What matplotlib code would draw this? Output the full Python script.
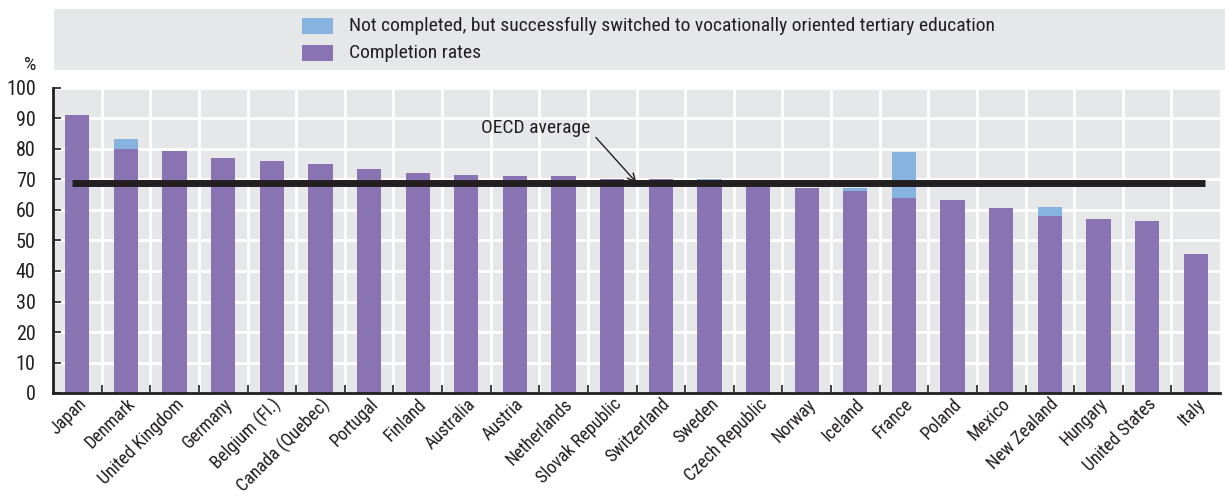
import matplotlib
matplotlib.use("Agg")
import matplotlib.pyplot as plt
import numpy as np
from matplotlib.patches import Rectangle

plt.rcParams["font.family"] = ["Roboto Condensed", "Liberation Sans Narrow", "Roboto", "DejaVu Sans"]

countries = [
    "Japan", "Denmark", "United Kingdom", "Germany", "Belgium (Fl.)",
    "Canada (Quebec)", "Portugal", "Finland", "Australia", "Austria",
    "Netherlands", "Slovak Republic", "Switzerland", "Sweden", "Czech Republic",
    "Norway", "Iceland", "France", "Poland", "Mexico", "New Zealand",
    "Hungary", "United States", "Italy",
]
completion = [91.0, 80.0, 79.5, 77.0, 76.0, 75.2, 73.5, 72.0, 71.6, 71.0,
              71.0, 70.0, 70.0, 69.8, 68.0, 67.2, 66.2, 64.0, 63.3, 60.6,
              58.0, 57.0, 56.4, 45.5]
switched = [0.0, 3.2, 0.0, 0.0, 0.0, 0.0, 0.0, 0.0, 0.0, 0.0,
            0.0, 0.0, 0.0, 0.3, 0.0, 0.0, 1.0, 15.0, 0.0, 0.0,
            3.0, 0.0, 0.0, 0.0]
oecd_average = 69.0
legend_labels = ["Not completed, but successfully switched to vocationally oriented tertiary education",
                 "Completion rates"]

purple = "#8a73b3"
blue = "#86b3e0"
bg = "#e6e7e9"
dark = "#231f20"

W, H = 1228, 497
fig = plt.figure(figsize=(W / 100, H / 100), dpi=100)
ax = fig.add_axes([53 / W, 1 - 393 / H, 1167 / W, 305 / H])
ax.set_facecolor(bg)

x = np.arange(len(countries))
ax.bar(x, completion, width=0.5, color=purple, zorder=3)
ax.bar(x, switched, bottom=completion, width=0.5, color=blue, zorder=3)

# OECD average line + label
ax.hlines(oecd_average, -0.1, 23.2, color=dark, linewidth=5, zorder=4)
ax.annotate("OECD average", xy=(11.5, oecd_average), xytext=(10.55, 87),
            ha="right", va="center", fontsize=14, color=dark,
            arrowprops=dict(arrowstyle="->", color=dark, lw=1,
                            shrinkA=3, shrinkB=0, relpos=(1.0, 0.3)),
            zorder=5)

ax.set_xlim(-0.5, len(countries) - 0.5)
ax.set_ylim(0, 100)
ax.set_yticks(np.arange(0, 101, 10))
ax.set_xticks(x)
ax.set_xticklabels(countries, rotation=45, ha="right", rotation_mode="anchor",
                   fontsize=13, color=dark)
ax.set_xticks(x[:-1] + 0.5, minor=True)
ax.tick_params(axis="x", which="major", length=0, pad=1.5)
ax.tick_params(axis="x", which="minor", direction="in", length=6, width=1.2,
               color=dark)
ax.tick_params(axis="y", direction="in", length=6, width=1.2, color=dark,
               labelsize=14.5, labelcolor=dark, pad=12.5)

ax.grid(axis="y", which="major", color="white", linewidth=2, zorder=0)
ax.grid(axis="x", which="minor", color="white", linewidth=2, zorder=0)
ax.set_axisbelow(True)

for side in ["top", "right"]:
    ax.spines[side].set_visible(False)
for side in ["left", "bottom"]:
    ax.spines[side].set_color(dark)
    ax.spines[side].set_linewidth(2)
    ax.spines[side].set_zorder(6)

fig.text(30 / W, 1 - 65 / H, "%", fontsize=14, color=dark,
         ha="center", va="center")

# legend band drawn by hand
fig.patches.append(Rectangle((54 / W, 1 - 70 / H), 1171 / W, 61 / H,
                             transform=fig.transFigure, facecolor=bg,
                             edgecolor="none", zorder=0))
for i, (col, lab) in enumerate(zip([blue, purple], legend_labels)):
    yc = 26 + 27 * i
    fig.patches.append(Rectangle((302 / W, 1 - (yc + 8) / H), 31 / W, 16 / H,
                                 transform=fig.transFigure, facecolor=col,
                                 edgecolor="none", zorder=1))
    fig.text(349 / W, 1 - yc / H, lab, fontsize=14, color=dark,
             ha="left", va="center")

fig.savefig("out.png", dpi=100)
